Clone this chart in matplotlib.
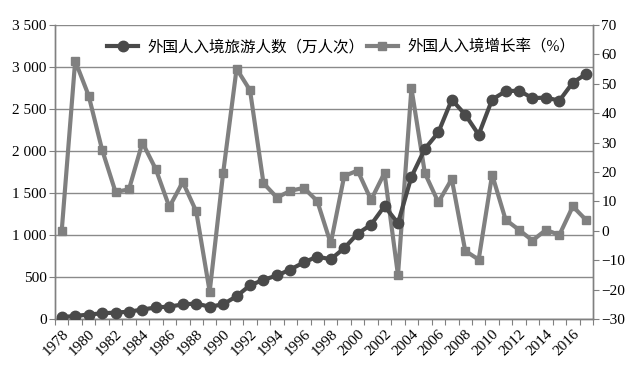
import numpy as np
import matplotlib.pyplot as plt
from matplotlib.transforms import ScaledTranslation

plt.rcParams['font.family'] = ['Liberation Serif', 'Noto Sans CJK SC']
plt.rcParams['axes.unicode_minus'] = True

# data
years = list(range(1978, 2018))
arrivals = [23, 36, 53, 68, 76, 87, 113, 137, 148, 173, 184, 146, 175, 271, 401, 466,
            518, 589, 674, 743, 711, 843, 1016, 1123, 1344, 1140, 1693, 2026, 2221, 2611,
            2433, 2194, 2613, 2711, 2719, 2629, 2636, 2599, 2815, 2917]
growth = [0, 57.8, 46.0, 27.6, 13.2, 14.1, 30.0, 20.9, 8.1, 16.6, 6.6, -20.7, 19.6, 55.1,
          47.8, 16.2, 11.3, 13.6, 14.6, 10.1, -4.3, 18.6, 20.5, 10.5, 19.7, -15.1, 48.5,
          19.6, 9.7, 17.6, -6.8, -9.8, 19.1, 3.8, 0.3, -3.3, 0.3, -1.4, 8.3, 3.6]
label_a = '外国人入境旅游人数（万人次）'
label_g = '外国人入境增长率（%）'

dark = '#4a4a4a'
light = '#808080'
axcol = '#808080'

fig = plt.figure(figsize=(6.41, 3.72), dpi=100)
ax = fig.add_axes([55 / 641, 1 - 319 / 372, 538 / 641, 294 / 372])
ax2 = ax.twinx()
ax.set_zorder(ax2.get_zorder() + 1)
ax.patch.set_visible(False)

x = np.arange(len(years))

# gridlines on the secondary axes so they sit under both series
for v in range(0, 3501, 500):
    ax2.axhline(-30 + v / 35, color='#8a8a8a', lw=1, zorder=0)

ax2.plot(x, growth, color=light, lw=3, marker='s', ms=5.5, label=label_g, zorder=2)
ax.plot(x, arrivals, color=dark, lw=3, marker='o', ms=7.5, label=label_a, zorder=3)

ax.set_xlim(-0.5, len(years) - 0.5)
ax.set_ylim(0, 3500)
ax2.set_ylim(-30, 70)

ax.set_yticks(range(0, 3501, 500))
ax.set_yticklabels(['0' if v == 0 else f'{v // 1000} {v % 1000:03d}' if v >= 1000 else str(v)
                    for v in range(0, 3501, 500)])
ax2.set_yticks(range(-30, 71, 10))
ax2.set_yticklabels([f'\u2212{-v}' if v < 0 else str(v) for v in range(-30, 71, 10)])

ax.set_xticks(np.arange(len(years) + 1) - 0.5)
ax.set_xticklabels([])
ax.set_xticks(x[::2], minor=True)
ax.set_xticklabels([str(y) for y in years[::2]], minor=True, rotation=45,
                   ha='right', va='top', rotation_mode='anchor')
shift = ScaledTranslation(-5 / 100, -1 / 100, fig.dpi_scale_trans)
for lab in ax.get_xticklabels(minor=True):
    lab.set_transform(lab.get_transform() + shift)
ax.tick_params(axis='x', which='minor', length=0, pad=6, labelsize=11)
ax.tick_params(axis='x', which='major', length=4, color=axcol)
ax.tick_params(axis='y', length=4, color=axcol, labelsize=11, pad=2)
ax2.tick_params(axis='y', length=4, color=axcol, labelsize=11, pad=2)

for a in (ax, ax2):
    a.spines['top'].set_visible(False)
    for s in ('left', 'right', 'bottom'):
        a.spines[s].set_color(axcol)
        a.spines[s].set_linewidth(1)

h1, l1 = ax.get_legend_handles_labels()
h2, l2 = ax2.get_legend_handles_labels()
fig.legend(h1 + h2, l1 + l2, loc='center left', bbox_to_anchor=(107 / 641, 1 - 47 / 372),
           ncol=2, frameon=False, borderpad=0, borderaxespad=0, handlelength=2.0,
           handletextpad=0.6, columnspacing=0.15, prop={'size': 11.2})

fig.savefig('out.png', dpi=100, facecolor='white')
